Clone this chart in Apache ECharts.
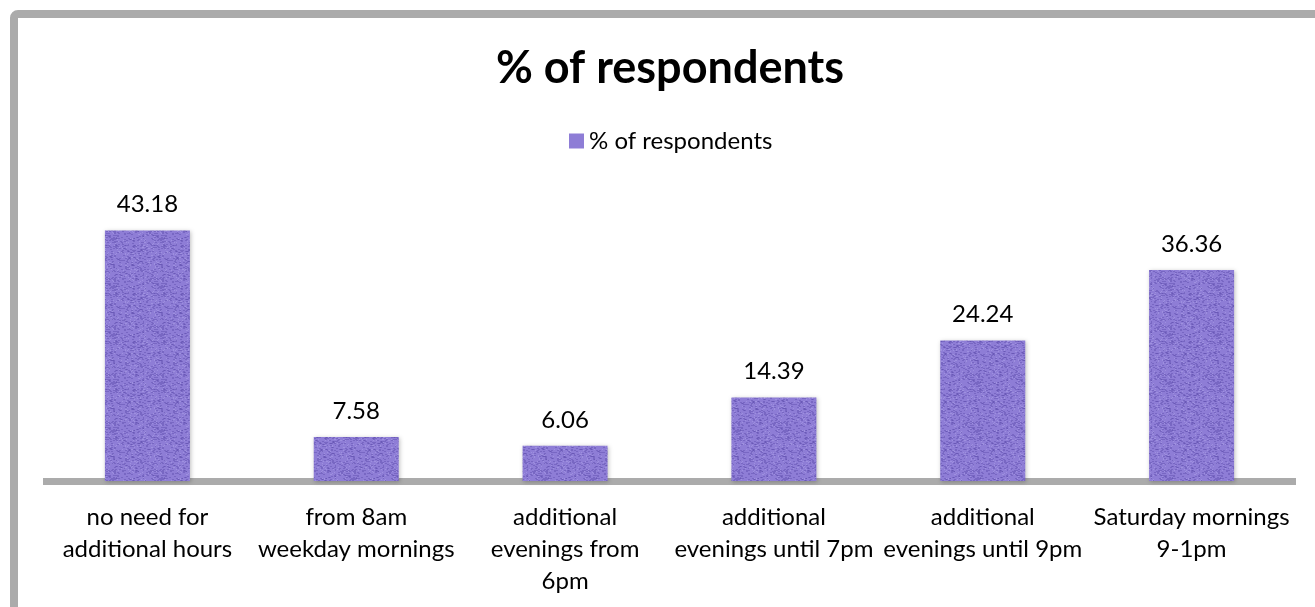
<!DOCTYPE html>
<html>
<head>
<meta charset="utf-8">
<title>% of respondents</title>
<script src="https://cdn.jsdelivr.net/npm/echarts@6/dist/echarts.min.js"></script>
<style>
  html, body { margin: 0; padding: 0; background: #fff; }
  #chart { width: 1315px; height: 607px; }
</style>
</head>
<body>
<div id="chart"></div>
<script>
// Preferred opening hours, share of respondents (%)
const categories = [
  'no need for\nadditional hours',
  'from 8am\nweekday mornings',
  'additional\nevenings from\n6pm',
  'additional\nevenings until 7pm',
  'additional\nevenings until 9pm',
  'Saturday mornings\n9-1pm'
];
const seriesName = '% of respondents';
const values = [43.18, 7.58, 6.06, 14.39, 24.24, 36.36];

const FONT = 'Lato, "Open Sans", sans-serif';

// Small embossed-paper tile used as the bar fill
function paperTile() {
  const size = 48;
  const c = document.createElement('canvas');
  c.width = c.height = size;
  const ctx = c.getContext('2d');
  ctx.fillStyle = '#8E7DD6';
  ctx.fillRect(0, 0, size, size);
  for (let y = 0; y < size; y++) {
    for (let x = 0; x < size; x++) {
      const h = Math.sin(x * 12.9898 + y * 78.233) * 43758.5453;
      const f = h - Math.floor(h);
      if (f > 0.86) {
        ctx.fillStyle = 'rgba(80,62,160,0.35)';
        ctx.fillRect(x, y, 2, 1);
      } else if (f < 0.08) {
        ctx.fillStyle = 'rgba(190,180,240,0.35)';
        ctx.fillRect(x, y, 1, 1);
      }
    }
  }
  return c;
}

const chart = echarts.init(document.getElementById('chart'), null, { renderer: 'canvas' });

chart.setOption({
  backgroundColor: '#ffffff',
  animation: false,
  textStyle: { fontFamily: FONT },
  title: {
    text: seriesName,
    left: 491,
    top: 41,
    textStyle: { fontFamily: FONT, fontSize: 45, fontWeight: 'bold', color: '#000' }
  },
  legend: {
    data: [{ name: seriesName, itemStyle: { color: '#8E7DD6' } }],
    top: 124,
    left: 564,
    itemWidth: 15,
    itemHeight: 15,
    itemGap: 8,
    icon: 'rect',
    textStyle: { fontFamily: FONT, fontSize: 24, color: '#000' }
  },
  graphic: [{
    type: 'rect',
    shape: { x: 14, y: 14, width: 1340, height: 640, r: 4 },
    style: { fill: 'none', stroke: '#ABABAB', lineWidth: 8 },
    silent: true,
    z: -1
  }],
  grid: { left: 43, right: 19, top: 191, bottom: 126, containLabel: false },
  xAxis: {
    type: 'category',
    data: categories,
    axisLine: { show: true, lineStyle: { color: '#ABABAB', width: 7, cap: 'butt' } },
    axisTick: { show: false },
    axisLabel: {
      interval: 0,
      margin: 20,
      fontFamily: FONT,
      fontSize: 24,
      lineHeight: 32,
      color: '#000'
    }
  },
  yAxis: {
    type: 'value',
    min: 0,
    max: 50,
    show: false,
    splitLine: { show: false }
  },
  series: [{
    name: seriesName,
    type: 'bar',
    data: values,
    barWidth: 85,
    itemStyle: {
      color: { image: paperTile(), repeat: 'repeat' },
      shadowColor: 'rgba(0,0,0,0.25)',
      shadowBlur: 4,
      shadowOffsetX: 1,
      shadowOffsetY: 1
    },
    label: {
      show: true,
      position: 'top',
      distance: 14,
      fontFamily: FONT,
      fontSize: 24,
      color: '#000',
      formatter: p => p.value.toFixed(2)
    }
  }]
});
</script>
</body>
</html>
